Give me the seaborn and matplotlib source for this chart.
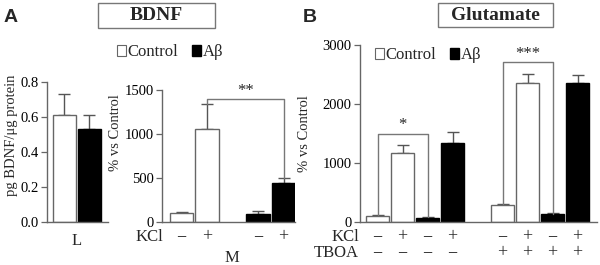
import numpy as np
import pandas as pd
import matplotlib
matplotlib.use("Agg")
import matplotlib.pyplot as plt
import matplotlib.transforms as mtransforms
from matplotlib.patches import Patch, Rectangle
import seaborn as sns

sns.set_style("white")
SERIF = ["Liberation Serif", "DejaVu Serif"]
plt.rcParams.update({
    "font.family": SERIF,
    "font.size": 10.5,
    "axes.edgecolor": "#666666",
    "axes.linewidth": 1.0,
    "ytick.color": "#666666",
    "ytick.labelcolor": "black",
    "ytick.labelsize": 10.5,
    "ytick.major.size": 4,
    "ytick.major.width": 0.9,
    "ytick.major.pad": 2,
    "ytick.left": True,
})

# ---- data -------------------------------------------------------------
# A, left: BDNF content
l_pos = [0, 1]
l_cond = ["Control", "Aβ"]
l_val = [0.61, 0.53]
l_sem = [0.12, 0.08]

# A, right: BDNF release (% vs control)
m_pos = [0, 1, 3, 4]
m_cond = ["Control", "Control", "Aβ", "Aβ"]
m_kcl = ["−", "+", "−", "+"]
m_val = [100, 1060, 90, 440]
m_sem = [15, 280, 35, 60]

# B: glutamate release (% vs control)
b_pos = [0, 1, 2, 3, 5, 6, 7, 8]
b_cond = ["Control", "Control", "Aβ", "Aβ", "Control", "Control", "Aβ", "Aβ"]
b_kcl = ["−", "+", "−", "+", "−", "+", "−", "+"]
b_tboa = ["−", "−", "−", "−", "+", "+", "+", "+"]
b_val = [100, 1170, 70, 1340, 290, 2350, 130, 2350]
b_sem = [15, 130, 10, 190, 15, 160, 15, 150]

# significance brackets: (x1, x2, top, bottom1, bottom2, label)
m_brackets = [(1, 4, 1400, 1340, 500, "**")]
b_brackets = [(0, 2, 1500, 118, 80, "*"), (5, 7, 2710, 305, 140, "***")]

PALETTE = {"Control": "white", "Aβ": "black"}
GREY = "#666666"


def draw_bars(ax, pos, cond, val, sem, ymax, yticks, fmt="{:g}"):
    df = pd.DataFrame({"pos": pos, "cond": cond, "val": val})
    sns.barplot(data=df, x="pos", y="val", hue="cond", palette=PALETTE,
                native_scale=True, dodge=False, width=0.92, errorbar=None,
                legend=False, linewidth=1.0, edgecolor=GREY, ax=ax, zorder=2)
    for p in ax.patches:
        if p.get_facecolor()[0] < 0.5:
            p.set_edgecolor("black")
    ax.errorbar(pos, val, yerr=[np.zeros(len(sem)), sem], fmt="none",
                ecolor="#555555", elinewidth=1.0, capsize=4.5, capthick=1.0,
                zorder=1)
    ax.set_ylim(0, ymax)
    ax.set_yticks(yticks)
    ax.set_yticklabels([fmt.format(t) for t in yticks], family=SERIF,
                       fontsize=10.5)
    ax.set_xticks([])
    ax.set_xlabel("")
    sns.despine(ax=ax)


def draw_brackets(ax, brackets, fs):
    for x1, x2, top, b1, b2, lab in brackets:
        ax.plot([x1, x1, x2, x2], [b1, top, top, b2], color="#777777",
                lw=1.0, zorder=3, clip_on=False)
        ax.text((x1 + x2) / 2, top, lab, ha="center", va="bottom",
                fontsize=fs, clip_on=False)


def sign_row(fig, ax, pos, signs, y, label, lx):
    tr = mtransforms.blended_transform_factory(ax.transData, fig.transFigure)
    for x, s in zip(pos, signs):
        ax.text(x, y, s, transform=tr, ha="center", va="center", fontsize=13)
    fig.text(lx, y, label, ha="right", va="center", fontsize=12)


fig = plt.figure(figsize=(6, 2.65), dpi=100)
H = 265.0

ax_l = fig.add_axes([47 / 600, (H - 222) / H, 61 / 600, 140 / H])
ax_m = fig.add_axes([162 / 600, (H - 222) / H, 133 / 600, 132 / H])
ax_b = fig.add_axes([360 / 600, (H - 222) / H, 237 / 600, 177 / H])

draw_bars(ax_l, l_pos, l_cond, l_val, l_sem, 0.8, [0, 0.2, 0.4, 0.6, 0.8],
          fmt="{:.1f}")
ax_l.set_xlim(-0.68, 1.76)
ax_l.set_ylabel("pg BDNF/μg protein", fontsize=10.5)
ax_l.yaxis.set_label_coords(-0.48, 0.62)

draw_bars(ax_m, m_pos, m_cond, m_val, m_sem, 1500, [0, 500, 1000, 1500])
ax_m.set_xlim(-0.77, 4.45)
ax_m.set_ylabel("% vs Control", fontsize=10.5)
ax_m.yaxis.set_label_coords(-0.30, 0.68)
draw_brackets(ax_m, m_brackets, 12)

draw_bars(ax_b, b_pos, b_cond, b_val, b_sem, 3000, [0, 1000, 2000, 3000])
ax_b.set_xlim(-0.7, 8.78)
ax_b.set_ylabel("% vs Control", fontsize=10.5)
ax_b.yaxis.set_label_coords(-0.205, 0.50)
draw_brackets(ax_b, b_brackets, 12)

# condition rows
fig.text(77 / 600, (H - 241) / H, "L", ha="center", va="center", fontsize=12)
sign_row(fig, ax_m, m_pos, m_kcl, (H - 237) / H, "KCl", 163 / 600)
fig.text(232 / 600, (H - 258) / H, "M", ha="center", va="center", fontsize=12)
sign_row(fig, ax_b, b_pos, b_kcl, (H - 237) / H, "KCl", 359 / 600)
sign_row(fig, ax_b, b_pos, b_tboa, (H - 253) / H, "TBOA", 359 / 600)

# legends
handles = [Patch(facecolor="white", edgecolor=GREY, linewidth=0.8),
           Patch(facecolor="black", edgecolor="black")]
leg_kw = dict(ncol=2, frameon=False, fontsize=12, handlelength=0.55,
              handleheight=0.65, handletextpad=0.1, columnspacing=0.8,
              borderpad=0, borderaxespad=0)
fig.legend(handles, ["Control", "Aβ"], loc="center",
           bbox_to_anchor=(170 / 600, (H - 52) / H), **leg_kw)
fig.legend(handles, ["Control", "Aβ"], loc="center",
           bbox_to_anchor=(428 / 600, (H - 55) / H), **leg_kw)

# boxed titles
for x0, y0, x1, y1, txt in [(98, 3, 215, 28, "BDNF"), (438, 3, 553, 27, "Glutamate")]:
    fig.add_artist(Rectangle((x0 / 600, (H - y1) / H), (x1 - x0) / 600,
                             (y1 - y0) / H, transform=fig.transFigure,
                             facecolor="white", edgecolor="#777777", lw=1.0))
    fig.text((x0 + x1) / 2 / 600, (H - (y0 + y1) / 2) / H, txt, ha="center",
             va="center", fontsize=14, fontweight="bold")

# panel letters
for x, letter in [(4, "A"), (303, "B")]:
    fig.text(x / 600, (H - 18) / H, letter, ha="left", va="center",
             fontsize=14, fontweight="bold", family="Liberation Sans")

fig.savefig("out.png", dpi=100)
plt.close(fig)
